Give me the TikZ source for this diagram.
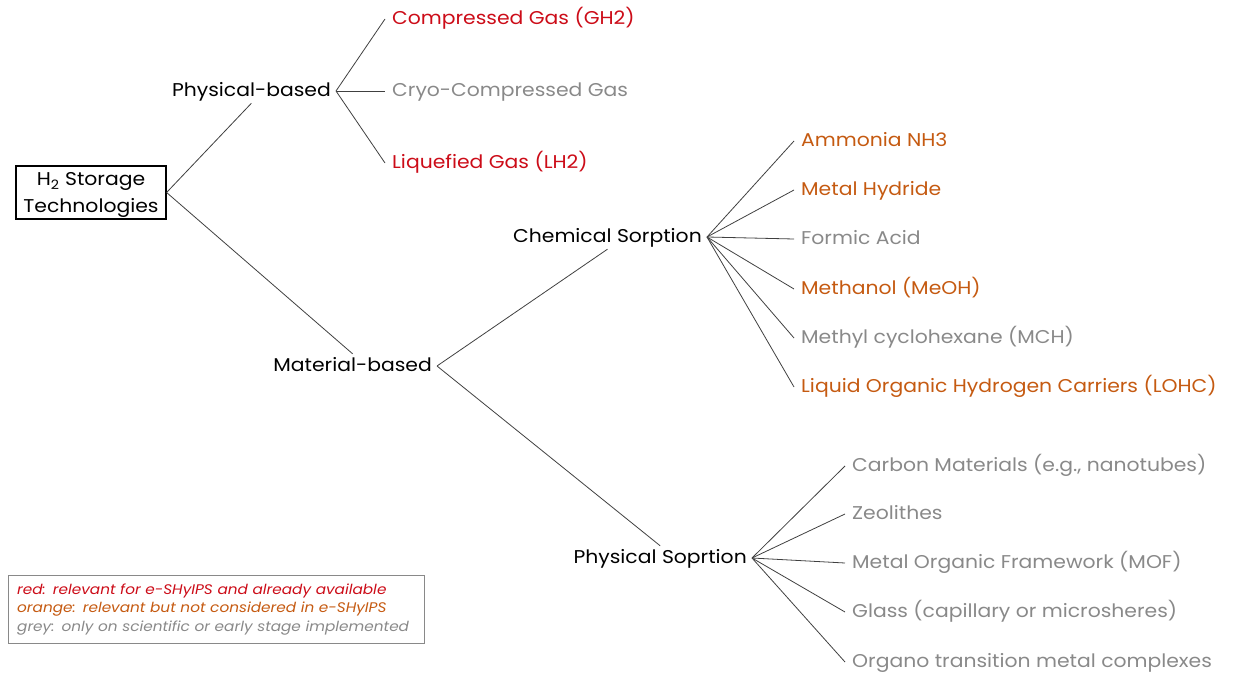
\documentclass[tikz,border=0pt]{standalone}
\usepackage{fontspec}
\setmainfont{Poppins}[FakeStretch=1.1]
\definecolor{relred}{RGB}{204,12,24}
\definecolor{relorange}{RGB}{197,90,17}
\definecolor{relgrey}{RGB}{137,137,137}
\begin{document}
\begin{tikzpicture}[x=1pt,y=-1pt,
    branch/.style={anchor=east,inner xsep=5pt,minimum height=24pt,text height=14pt,text depth=3pt,
                   font=\fontsize{18.5}{22}\selectfont},
    leaf/.style={anchor=west,inner xsep=7pt,text height=14pt,text depth=3pt,font=\fontsize{18.5}{22}\selectfont},
    link/.style={draw=black!75,line width=0.8pt}]
  \useasboundingbox (0,0) rectangle (1235,674);

  % root box
  \node[draw,line width=1.2pt,align=center,minimum width=150pt,minimum height=53pt,inner sep=2pt,
        text height=44pt,text depth=4pt,font=\fontsize{18.5}{27}\selectfont] (root) at (91,192.5)
    {H\textsubscript{2} Storage\\Technologies};

  % branches
  \node[branch] (phys) at (336,91) {Physical-based};
  \node[branch] (mat) at (437,366) {Material-based};
  \node[branch] (chem) at (707,237) {Chemical Sorption};
  \node[branch] (sorp) at (752,558) {Physical Soprtion};
  \draw[link] (root.east) -- (phys.south);
  \draw[link] (root.east) -- (mat.north);
  \draw[link] (mat.east) -- (chem.south);
  \draw[link] (mat.east) -- (sorp.north);

  % physical-based leaves
  \foreach \y/\c/\t [count=\i] in {19/relred/Compressed Gas (GH2), 91/relgrey/Cryo-Compressed Gas,
      163/relred/Liquefied Gas (LH2)} {
    \node[leaf,text=\c] (gas\i) at (385,\y) {\t};
    \draw[link] (phys.east) -- (gas\i.west);
  }

  % chemical sorption leaves
  \foreach \y/\c/\t [count=\i] in {141/relorange/Ammonia NH3, 190/relorange/Metal Hydride,
      239/relgrey/Formic Acid, 289/relorange/Methanol (MeOH), 338/relgrey/Methyl cyclohexane (MCH),
      387/relorange/Liquid Organic Hydrogen Carriers (LOHC)} {
    \node[leaf,text=\c] (chem\i) at (794,\y) {\t};
    \draw[link] (chem.east) -- (chem\i.west);
  }

  % physical sorption leaves
  \foreach \y/\c/\t [count=\i] in {466/relgrey/{Carbon Materials (e.g., nanotubes)}, 514/relgrey/Zeolithes,
      563/relgrey/Metal Organic Framework (MOF), 612/relgrey/Glass (capillary or microsheres),
      662/relgrey/Organo transition metal complexes} {
    \node[leaf,text=\c] (sorp\i) at (845,\y) {\t};
    \draw[link] (sorp.east) -- (sorp\i.west);
  }

  % legend
  \node[draw=relgrey,anchor=north west,inner xsep=9pt,inner ysep=5pt,text width=398pt,minimum height=68pt,
        align=left,font=\fontsize{13.9}{18.5}\selectfont\itshape] (legend) at (8,575)
    {\textcolor{relred}{red: relevant for e-SHyIPS and already available}\\
     \textcolor{relorange}{orange: relevant but not considered in e-SHyIPS}\\
     \textcolor{relgrey}{grey: only on scientific or early stage implemented}};
\end{tikzpicture}
\end{document}
